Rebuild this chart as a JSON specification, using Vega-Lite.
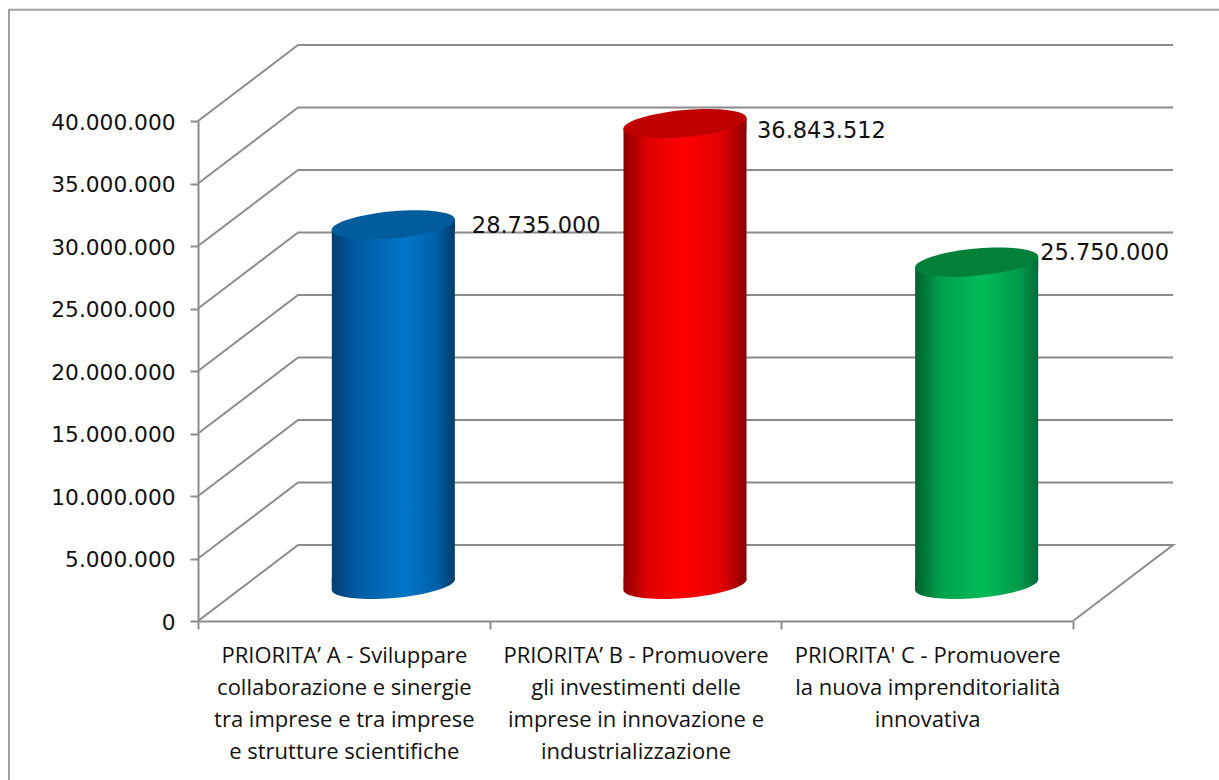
{
  "$schema": "https://vega.github.io/schema/vega-lite/v6.json",
  "width": 875,
  "height": 500,
  "autosize": "none",
  "padding": {"left": 198, "top": 121, "right": 146, "bottom": 159},
  "background": "white",
  "config": {
    "view": {"stroke": null},
    "locale": {"number": {"decimal": ",", "thousands": ".", "grouping": [3], "currency": ["€", ""]}}
  },
  "datasets": {
    "cornice": [
      {"linea": "cornice", "px": -0.648, "valore": -12900000},
      {"linea": "cornice", "px": -0.648, "valore": 48900000},
      {"linea": "cornice", "px": 3.51, "valore": 48900000}
    ],
    "griglia": [
      {"linea": "0", "px": 3, "valore": 0},
      {"linea": "0", "px": 3.343, "valore": 6080000},
      {"linea": "0", "px": 0.343, "valore": 6080000},
      {"linea": "0", "px": 0, "valore": 0},
      {"linea": "5M", "px": 0, "valore": 5000000},
      {"linea": "5M", "px": 0.343, "valore": 11080000},
      {"linea": "5M", "px": 3.343, "valore": 11080000},
      {"linea": "10M", "px": 0, "valore": 10000000},
      {"linea": "10M", "px": 0.343, "valore": 16080000},
      {"linea": "10M", "px": 3.343, "valore": 16080000},
      {"linea": "15M", "px": 0, "valore": 15000000},
      {"linea": "15M", "px": 0.343, "valore": 21080000},
      {"linea": "15M", "px": 3.343, "valore": 21080000},
      {"linea": "20M", "px": 0, "valore": 20000000},
      {"linea": "20M", "px": 0.343, "valore": 26080000},
      {"linea": "20M", "px": 3.343, "valore": 26080000},
      {"linea": "25M", "px": 0, "valore": 25000000},
      {"linea": "25M", "px": 0.343, "valore": 31080000},
      {"linea": "25M", "px": 3.343, "valore": 31080000},
      {"linea": "30M", "px": 0, "valore": 30000000},
      {"linea": "30M", "px": 0.343, "valore": 36080000},
      {"linea": "30M", "px": 3.343, "valore": 36080000},
      {"linea": "35M", "px": 0, "valore": 35000000},
      {"linea": "35M", "px": 0.343, "valore": 41080000},
      {"linea": "35M", "px": 3.343, "valore": 41080000},
      {"linea": "40M", "px": 0, "valore": 40000000},
      {"linea": "40M", "px": 0.343, "valore": 46080000},
      {"linea": "40M", "px": 3.343, "valore": 46080000}
    ],
    "priorita": [
      {"priorita": "A", "px": 0.5, "valore": 28735000},
      {"priorita": "B", "px": 1.5, "valore": 36843512},
      {"priorita": "C", "px": 2.5, "valore": 25750000}
    ]
  },
  "encoding": {
    "x": {
      "field": "px",
      "type": "quantitative",
      "title": null,
      "scale": {"domain": [0, 3], "nice": false, "zero": false, "padding": 0},
      "axis": {
        "values": [0, 0.5, 1, 1.5, 2, 2.5, 3],
        "grid": false,
        "domainColor": "#8c8c8c",
        "domainWidth": 2,
        "tickColor": "#8c8c8c",
        "tickWidth": 2,
        "tickSize": 8,
        "tickOpacity": {"condition": {"test": "datum.value % 1 === 0", "value": 1}, "value": 0},
        "labelFont": "Open Sans",
        "labelFontSize": 22,
        "labelColor": "#111111",
        "labelLineHeight": 32,
        "labelPadding": 16,
        "labelBaseline": "top",
        "labelAlign": "center",
        "labelLimit": 0,
        "labelOverlap": false,
        "labelBound": false,
        "labelFlush": false,
        "labelExpr": "datum.value === 0.5 ? ['PRIORITA’ A - Sviluppare', 'collaborazione e sinergie', 'tra imprese e tra imprese', 'e strutture scientifiche'] : datum.value === 1.5 ? ['PRIORITA’ B - Promuovere', 'gli investimenti delle', 'imprese in innovazione e', 'industrializzazione'] : datum.value === 2.5 ? ['PRIORITA\\' C - Promuovere', 'la nuova imprenditorialità', 'innovativa'] : ''"
      }
    },
    "y": {
      "field": "valore",
      "type": "quantitative",
      "title": null,
      "scale": {"domain": [0, 40000000], "nice": false, "zero": false, "padding": 0},
      "axis": {
        "values": [0, 5000000, 10000000, 15000000, 20000000, 25000000, 30000000, 35000000, 40000000],
        "format": ",.0f",
        "grid": false,
        "domainColor": "#8c8c8c",
        "domainWidth": 2,
        "tickColor": "#8c8c8c",
        "tickWidth": 2,
        "tickSize": 8,
        "labelFont": "DejaVu Sans",
        "labelFontSize": 21.7,
        "labelColor": "#111111",
        "labelPadding": 15,
        "labelOffset": 1
      }
    }
  },
  "layer": [
    {
      "data": {"name": "cornice"},
      "mark": {"type": "line", "stroke": "#a0a0a0", "strokeWidth": 2, "clip": false},
      "encoding": {"detail": {"field": "linea"}, "order": {"value": null}}
    },
    {
      "data": {"name": "griglia"},
      "mark": {"type": "line", "stroke": "#8c8c8c", "strokeWidth": 2, "clip": false},
      "encoding": {"detail": {"field": "linea"}, "order": {"value": null}}
    },
    {
      "description": "Cilindro priorità A",
      "data": {"name": "priorita"},
      "transform": [{"filter": "datum.priorita === 'A'"}],
      "layer": [
        {
          "mark": {
            "type": "bar", "width": 123, "xOffset": 49.5, "yOffset": -31.7, "y2Offset": -41.8,
            "fill": {"x1": 0, "y1": 0, "x2": 1, "y2": 0, "gradient": "linear", "stops": [
              {"offset": 0, "color": "#033f70"}, {"offset": 0.18, "color": "#0059a0"},
              {"offset": 0.6, "color": "#0076c8"}, {"offset": 0.85, "color": "#005fa8"},
              {"offset": 1, "color": "#023c6c"}]}
          },
          "encoding": {"y2": {"datum": 0}}
        },
        {
          "mark": {
            "type": "point", "filled": true, "opacity": 1, "size": 15203, "xOffset": 49.5, "yOffset": -36.5,
            "shape": "M1,-0.1L1,-0.086C1,0.035,0.5523,0.1715,0,0.219C-0.5523,0.2665,-1,0.207,-1,0.086L-1,-0.1Z",
            "fill": {"x1": 0, "y1": 0, "x2": 1, "y2": 0, "gradient": "linear", "stops": [
              {"offset": 0, "color": "#033f70"}, {"offset": 0.18, "color": "#0059a0"},
              {"offset": 0.6, "color": "#0076c8"}, {"offset": 0.85, "color": "#005fa8"},
              {"offset": 1, "color": "#023c6c"}]}
          },
          "encoding": {"y": {"datum": 0}}
        },
        {
          "mark": {
            "type": "point", "filled": true, "opacity": 1, "size": 15203, "xOffset": 49.5, "yOffset": -37,
            "shape": "M-1,0.086L1,-0.086L1,0.1L-1,0.1Z",
            "fill": {"x1": 0, "y1": 0, "x2": 1, "y2": 0, "gradient": "linear", "stops": [
              {"offset": 0, "color": "#033f70"}, {"offset": 0.18, "color": "#0059a0"},
              {"offset": 0.6, "color": "#0076c8"}, {"offset": 0.85, "color": "#005fa8"},
              {"offset": 1, "color": "#023c6c"}]}
          }
        },
        {
          "mark": {
            "type": "point", "filled": true, "opacity": 1, "size": 15203, "xOffset": 49.5, "yOffset": -37,
            "shape": "M1,-0.086C1,0.035,0.5523,0.1715,0,0.219C-0.5523,0.2665,-1,0.207,-1,0.086C-1,-0.035,-0.5523,-0.1715,0,-0.219C0.5523,-0.2665,1,-0.207,1,-0.086Z",
            "fill": "#005c9a"
          }
        },
        {
          "mark": {"type": "text", "align": "left", "baseline": "middle", "font": "DejaVu Sans", "fontSize": 22.5, "fill": "#111111", "xOffset": 128, "yOffset": -36},
          "encoding": {"text": {"field": "valore", "type": "quantitative", "format": ",.0f"}}
        }
      ]
    },
    {
      "description": "Cilindro priorità B",
      "data": {"name": "priorita"},
      "transform": [{"filter": "datum.priorita === 'B'"}],
      "layer": [
        {
          "mark": {
            "type": "bar", "width": 123, "xOffset": 49.5, "yOffset": -31.7, "y2Offset": -41.8,
            "fill": {"x1": 0, "y1": 0, "x2": 1, "y2": 0, "gradient": "linear", "stops": [
              {"offset": 0, "color": "#8e0000"}, {"offset": 0.2, "color": "#e00000"},
              {"offset": 0.5, "color": "#ff0000"}, {"offset": 0.8, "color": "#e00000"},
              {"offset": 1, "color": "#880000"}]}
          },
          "encoding": {"y2": {"datum": 0}}
        },
        {
          "mark": {
            "type": "point", "filled": true, "opacity": 1, "size": 15203, "xOffset": 49.5, "yOffset": -36.5,
            "shape": "M1,-0.1L1,-0.086C1,0.035,0.5523,0.1715,0,0.219C-0.5523,0.2665,-1,0.207,-1,0.086L-1,-0.1Z",
            "fill": {"x1": 0, "y1": 0, "x2": 1, "y2": 0, "gradient": "linear", "stops": [
              {"offset": 0, "color": "#8e0000"}, {"offset": 0.2, "color": "#e00000"},
              {"offset": 0.5, "color": "#ff0000"}, {"offset": 0.8, "color": "#e00000"},
              {"offset": 1, "color": "#880000"}]}
          },
          "encoding": {"y": {"datum": 0}}
        },
        {
          "mark": {
            "type": "point", "filled": true, "opacity": 1, "size": 15203, "xOffset": 49.5, "yOffset": -37,
            "shape": "M-1,0.086L1,-0.086L1,0.1L-1,0.1Z",
            "fill": {"x1": 0, "y1": 0, "x2": 1, "y2": 0, "gradient": "linear", "stops": [
              {"offset": 0, "color": "#8e0000"}, {"offset": 0.2, "color": "#e00000"},
              {"offset": 0.5, "color": "#ff0000"}, {"offset": 0.8, "color": "#e00000"},
              {"offset": 1, "color": "#880000"}]}
          }
        },
        {
          "mark": {
            "type": "point", "filled": true, "opacity": 1, "size": 15203, "xOffset": 49.5, "yOffset": -37,
            "shape": "M1,-0.086C1,0.035,0.5523,0.1715,0,0.219C-0.5523,0.2665,-1,0.207,-1,0.086C-1,-0.035,-0.5523,-0.1715,0,-0.219C0.5523,-0.2665,1,-0.207,1,-0.086Z",
            "fill": "#c00000"
          }
        },
        {
          "mark": {"type": "text", "align": "left", "baseline": "middle", "font": "DejaVu Sans", "fontSize": 22.5, "fill": "#111111", "xOffset": 121.5, "yOffset": -29.5},
          "encoding": {"text": {"field": "valore", "type": "quantitative", "format": ",.0f"}}
        }
      ]
    },
    {
      "description": "Cilindro priorità C",
      "data": {"name": "priorita"},
      "transform": [{"filter": "datum.priorita === 'C'"}],
      "layer": [
        {
          "mark": {
            "type": "bar", "width": 123, "xOffset": 49.5, "yOffset": -31.7, "y2Offset": -41.8,
            "fill": {"x1": 0, "y1": 0, "x2": 1, "y2": 0, "gradient": "linear", "stops": [
              {"offset": 0, "color": "#006030"}, {"offset": 0.2, "color": "#009f4c"},
              {"offset": 0.55, "color": "#00bc58"}, {"offset": 0.85, "color": "#009a4a"},
              {"offset": 1, "color": "#006a38"}]}
          },
          "encoding": {"y2": {"datum": 0}}
        },
        {
          "mark": {
            "type": "point", "filled": true, "opacity": 1, "size": 15203, "xOffset": 49.5, "yOffset": -36.5,
            "shape": "M1,-0.1L1,-0.086C1,0.035,0.5523,0.1715,0,0.219C-0.5523,0.2665,-1,0.207,-1,0.086L-1,-0.1Z",
            "fill": {"x1": 0, "y1": 0, "x2": 1, "y2": 0, "gradient": "linear", "stops": [
              {"offset": 0, "color": "#006030"}, {"offset": 0.2, "color": "#009f4c"},
              {"offset": 0.55, "color": "#00bc58"}, {"offset": 0.85, "color": "#009a4a"},
              {"offset": 1, "color": "#006a38"}]}
          },
          "encoding": {"y": {"datum": 0}}
        },
        {
          "mark": {
            "type": "point", "filled": true, "opacity": 1, "size": 15203, "xOffset": 49.5, "yOffset": -37,
            "shape": "M-1,0.086L1,-0.086L1,0.1L-1,0.1Z",
            "fill": {"x1": 0, "y1": 0, "x2": 1, "y2": 0, "gradient": "linear", "stops": [
              {"offset": 0, "color": "#006030"}, {"offset": 0.2, "color": "#009f4c"},
              {"offset": 0.55, "color": "#00bc58"}, {"offset": 0.85, "color": "#009a4a"},
              {"offset": 1, "color": "#006a38"}]}
          }
        },
        {
          "mark": {
            "type": "point", "filled": true, "opacity": 1, "size": 15203, "xOffset": 49.5, "yOffset": -37,
            "shape": "M1,-0.086C1,0.035,0.5523,0.1715,0,0.219C-0.5523,0.2665,-1,0.207,-1,0.086C-1,-0.035,-0.5523,-0.1715,0,-0.219C0.5523,-0.2665,1,-0.207,1,-0.086Z",
            "fill": "#008038"
          }
        },
        {
          "mark": {"type": "text", "align": "left", "baseline": "middle", "font": "DejaVu Sans", "fontSize": 22.5, "fill": "#111111", "xOffset": 113, "yOffset": -46},
          "encoding": {"text": {"field": "valore", "type": "quantitative", "format": ",.0f"}}
        }
      ]
    }
  ]
}
